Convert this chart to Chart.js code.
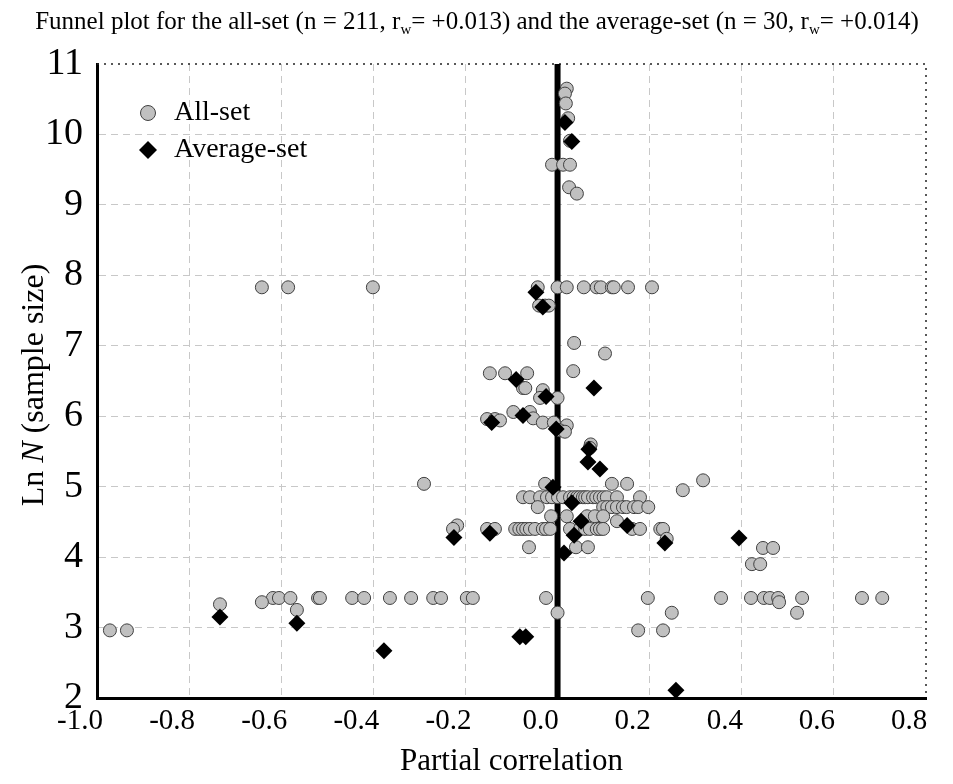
<!DOCTYPE html>
<html>
<head>
<meta charset="utf-8">
<script src="https://cdn.jsdelivr.net/npm/chart.js@4.4.1/dist/chart.umd.min.js"></script>
<style>
  html, body { margin: 0; padding: 0; background: #fff; }
  #wrap { width: 953px; height: 784px; position: relative; }
</style>
</head>
<body>
<div id="wrap"><canvas id="funnel"></canvas></div>
<script>
// All-set: [partial correlation, ln N] (overlapping points are approximate)
const allSet = [
  [0.020, 10.65], [0.016, 10.58], [0.018, 10.44], [0.023, 10.23], [0.027, 9.91],
  [-0.012, 9.57], [0.012, 9.57], [0.027, 9.57], [0.025, 9.25], [0.042, 9.16],
  [-0.642, 7.83], [-0.585, 7.83], [-0.401, 7.83], [-0.043, 7.83], [0.000, 7.83], [0.020, 7.83],
  [0.057, 7.83], [0.085, 7.83], [0.094, 7.83], [0.118, 7.83], [0.122, 7.83], [0.153, 7.83], [0.205, 7.83],
  [-0.040, 7.57], [-0.027, 7.57], [-0.019, 7.57],
  [0.036, 7.04], [0.103, 6.89], [0.034, 6.64],
  [-0.147, 6.61], [-0.114, 6.61], [-0.066, 6.61],
  [-0.075, 6.40], [-0.070, 6.40], [-0.032, 6.37], [-0.038, 6.26], [0.000, 6.26],
  [-0.096, 6.06], [-0.060, 6.06], [-0.053, 5.97],
  [-0.153, 5.96], [-0.136, 5.96], [-0.125, 5.94],
  [-0.032, 5.91], [-0.008, 5.91], [0.020, 5.87], [0.005, 5.80], [0.016, 5.78],
  [0.072, 5.60], [0.070, 5.55],
  [-0.290, 5.04], [-0.027, 5.04], [0.118, 5.04], [0.151, 5.04], [0.272, 4.95], [0.316, 5.09],
  [-0.075, 4.85], [-0.060, 4.85], [-0.038, 4.85], [-0.023, 4.85], [-0.012, 4.85], [0.001, 4.85],
  [0.012, 4.85], [0.027, 4.85], [0.035, 4.85], [0.042, 4.85], [0.048, 4.85], [0.055, 4.85],
  [0.060, 4.85], [0.066, 4.85], [0.077, 4.85], [0.084, 4.85], [0.092, 4.85], [0.100, 4.85],
  [0.107, 4.85], [0.129, 4.85], [0.179, 4.85],
  [-0.043, 4.71], [0.099, 4.71], [0.108, 4.71], [0.118, 4.71], [0.129, 4.71], [0.142, 4.71],
  [0.150, 4.71], [0.166, 4.71], [0.175, 4.71], [0.197, 4.71],
  [-0.014, 4.58], [0.020, 4.58], [0.064, 4.58], [0.081, 4.58], [0.099, 4.58], [0.129, 4.51],
  [-0.218, 4.45], [-0.227, 4.40],
  [-0.153, 4.40], [-0.136, 4.40], [-0.092, 4.40], [-0.083, 4.40], [-0.075, 4.40], [-0.068, 4.40],
  [-0.060, 4.40], [-0.049, 4.40], [-0.032, 4.40], [-0.025, 4.40], [-0.016, 4.40], [0.027, 4.40],
  [0.049, 4.40], [0.060, 4.40], [0.070, 4.40], [0.085, 4.40], [0.092, 4.40], [0.099, 4.40],
  [0.162, 4.40], [0.179, 4.40], [0.223, 4.40], [0.229, 4.40],
  [0.237, 4.26],
  [0.446, 4.13], [0.468, 4.13], [0.422, 3.90], [0.440, 3.90],
  [-0.062, 4.14], [0.040, 4.14], [0.066, 4.14],
  [-0.618, 3.42], [-0.605, 3.42], [-0.580, 3.42], [-0.520, 3.42], [-0.516, 3.42], [-0.446, 3.42],
  [-0.420, 3.42], [-0.364, 3.42], [-0.318, 3.42], [-0.270, 3.42], [-0.253, 3.42], [-0.197, 3.42],
  [-0.184, 3.42], [-0.025, 3.42], [0.196, 3.42], [0.355, 3.42], [0.420, 3.42], [0.448, 3.42],
  [0.461, 3.42], [0.479, 3.42], [0.531, 3.42], [0.661, 3.42], [0.705, 3.42],
  [-0.642, 3.36], [-0.733, 3.33], [-0.566, 3.25], [0.000, 3.21], [0.481, 3.36], [0.520, 3.21],
  [0.248, 3.21], [-0.972, 2.96], [-0.935, 2.96], [0.175, 2.96], [0.229, 2.96]
];

// Average-set: [partial correlation, ln N]
const averageSet = [
  [0.016, 10.17], [0.031, 9.90], [-0.047, 7.76], [-0.032, 7.55], [-0.090, 6.52],
  [0.079, 6.40], [-0.025, 6.28], [-0.075, 6.01], [-0.143, 5.91], [-0.003, 5.82],
  [0.068, 5.53], [0.066, 5.35], [0.092, 5.25], [-0.010, 4.99], [0.031, 4.77],
  [0.051, 4.51], [0.151, 4.45], [-0.225, 4.28], [-0.147, 4.34], [0.036, 4.31],
  [0.233, 4.20], [0.394, 4.27], [0.014, 4.06], [-0.733, 3.15], [-0.566, 3.06],
  [-0.377, 2.67], [-0.082, 2.87], [-0.069, 2.87], [0.257, 2.11]
];

const zeroLine = [[0, 2], [0, 11]];
const xRange = [-1.0, 0.8];
const yRange = [2, 11];
const seriesLabels = ["All-set", "Average-set"];

const SERIF = "'Liberation Serif', 'Times New Roman', serif";
const GRID = "#c8c8c8";

const toXY = arr => arr.map(p => ({ x: p[0], y: p[1] }));

// title with subscripts, y title with italic N, dotted top/right frame, legend inside the plot
const decorPlugin = {
  id: "decor",
  beforeDatasetsDraw(chart) {
    const { ctx, chartArea: a } = chart;
    ctx.save();
    ctx.strokeStyle = "#222";
    ctx.lineWidth = 1.5;
    ctx.setLineDash([2, 5]);
    ctx.beginPath();
    ctx.moveTo(a.left, a.top);
    ctx.lineTo(a.right, a.top);
    ctx.lineTo(a.right, a.bottom);
    ctx.stroke();
    ctx.restore();
  },
  afterDatasetsDraw(chart) {
    const { ctx, chartArea: a } = chart;
    ctx.save();

    // legend
    const lx = a.left + 51, ly1 = a.top + 49, ly2 = a.top + 86;
    ctx.fillStyle = "#c0c0c0";
    ctx.strokeStyle = "#404040";
    ctx.lineWidth = 1;
    ctx.beginPath();
    ctx.arc(lx, ly1, 7.5, 0, Math.PI * 2);
    ctx.fill();
    ctx.stroke();
    ctx.fillStyle = "#000";
    ctx.beginPath();
    ctx.moveTo(lx, ly2 - 9);
    ctx.lineTo(lx + 9, ly2);
    ctx.lineTo(lx, ly2 + 9);
    ctx.lineTo(lx - 9, ly2);
    ctx.closePath();
    ctx.fill();
    ctx.font = "28px " + SERIF;
    ctx.textBaseline = "middle";
    ctx.textAlign = "left";
    ctx.fillText(chart.data.datasets[0].label, lx + 26, ly1);
    ctx.fillText(chart.data.datasets[1].label, lx + 26, ly2);
    ctx.restore();
  },
  afterDraw(chart) {
    const { ctx, chartArea: a } = chart;
    ctx.save();
    ctx.fillStyle = "#000";
    ctx.textBaseline = "alphabetic";
    ctx.textAlign = "left";

    // main title
    const big = "25px " + SERIF, small = "15px " + SERIF;
    const parts = [
      ["Funnel plot for the all-set (n = 211, r", big, 0],
      ["w", small, 5],
      ["= +0.013) and the average-set (n = 30, r", big, 0],
      ["w", small, 5],
      ["= +0.014)", big, 0]
    ];
    let total = 0;
    parts.forEach(p => { ctx.font = p[1]; total += ctx.measureText(p[0]).width; });
    let x = 477 - total / 2;
    parts.forEach(p => {
      ctx.font = p[1];
      ctx.fillText(p[0], x, 29 + p[2]);
      x += ctx.measureText(p[0]).width;
    });

    // y axis title
    ctx.translate(35, (a.top + a.bottom) / 2 + 4);
    ctx.rotate(-Math.PI / 2);
    const yParts = [
      ["Ln ", "32px " + SERIF],
      ["N", "italic 32px " + SERIF],
      [" (sample size)", "32px " + SERIF]
    ];
    total = 0;
    yParts.forEach(p => { ctx.font = p[1]; total += ctx.measureText(p[0]).width; });
    x = -total / 2;
    ctx.textBaseline = "middle";
    yParts.forEach(p => {
      ctx.font = p[1];
      ctx.fillText(p[0], x, 0);
      x += ctx.measureText(p[0]).width;
    });
    ctx.restore();
  }
};

new Chart(document.getElementById("funnel"), {
  type: "scatter",
  data: {
    datasets: [
      {
        label: seriesLabels[0],
        data: toXY(allSet),
        pointStyle: "circle",
        pointRadius: 6.5,
        pointBackgroundColor: "#c0c0c0",
        pointBorderColor: "#404040",
        pointBorderWidth: 1,
        order: 2
      },
      {
        label: seriesLabels[1],
        data: toXY(averageSet),
        pointStyle: "rectRot",
        pointRadius: 8.5,
        pointBackgroundColor: "#000",
        pointBorderColor: "#000",
        pointBorderWidth: 0,
        order: 1
      },
      {
        type: "line",
        label: "zero",
        data: toXY(zeroLine),
        borderColor: "#000",
        borderWidth: 6,
        pointRadius: 0,
        order: 3
      }
    ]
  },
  options: {
    responsive: true,
    maintainAspectRatio: false,
    animation: false,
    layout: { padding: { top: 64, right: 27, left: 0, bottom: 0 } },
    plugins: {
      legend: { display: false },
      title: { display: false },
      tooltip: { enabled: false }
    },
    scales: {
      x: {
        type: "linear",
        min: xRange[0],
        max: xRange[1],
        ticks: {
          stepSize: 0.2,
          color: "#000",
          padding: 6,
          labelOffset: -17,
          maxRotation: 0,
          font: { family: SERIF, size: 29 },
          callback: v => (Math.abs(v) < 1e-9 ? 0 : v).toFixed(1)
        },
        grid: {
          drawTicks: false,
          lineWidth: 1,
          color: c => (c.tick && (Math.abs(c.tick.value - xRange[1]) < 1e-9 || Math.abs(c.tick.value) < 1e-9)) ? "rgba(0,0,0,0)" : GRID
        },
        border: { display: true, color: "#000", width: 3, dash: [7, 5] },
        title: {
          display: true,
          text: "Partial correlation",
          color: "#000",
          font: { family: SERIF, size: 31 }
        },
        afterFit(scale) { scale.height = 86; }
      },
      y: {
        type: "linear",
        min: yRange[0],
        max: yRange[1],
        ticks: {
          stepSize: 1,
          color: "#000",
          padding: 14,
          font: { family: SERIF, size: 38 }
        },
        grid: {
          drawTicks: false,
          lineWidth: 1,
          color: c => (c.tick && c.tick.value === yRange[1]) ? "rgba(0,0,0,0)" : GRID
        },
        border: { display: true, color: "#000", width: 3, dash: [7, 5] },
        afterFit(scale) { scale.width = 97; }
      }
    }
  },
  plugins: [decorPlugin]
});
</script>
</body>
</html>
